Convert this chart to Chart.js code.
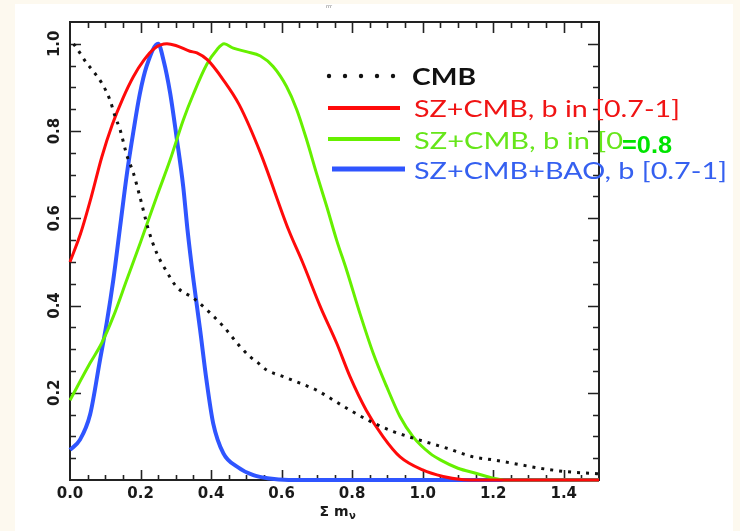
<!DOCTYPE html>
<html><head><meta charset="utf-8">
<script src="https://cdn.jsdelivr.net/npm/chart.js@4.4.0/dist/chart.umd.min.js"></script>
<style>html,body{margin:0;padding:0;background:#fdf9ef;overflow:hidden}
#wrap{position:absolute;left:0;top:0;width:740px;height:531px}</style>
</head><body><div id="wrap"><canvas id="c" width="740" height="531"></canvas></div>
<script>
// ---- data ----
const cmbX = [0.01,0.019,0.047,0.066,0.09,0.113,0.128,0.142,0.161,0.18,0.198,0.222,0.246,0.274,0.302,0.35,0.388,0.435,0.482,0.51,0.534,0.558,0.605,0.652,0.699,0.747,0.794,0.86,0.917,0.973,1.068,1.143,1.2,1.257,1.333,1.408,1.484,1.5];
const cmbY = [1.0,0.99,0.956,0.937,0.91,0.872,0.833,0.803,0.745,0.703,0.65,0.575,0.52,0.478,0.443,0.417,0.39,0.352,0.306,0.283,0.268,0.252,0.237,0.222,0.206,0.183,0.16,0.131,0.111,0.096,0.073,0.053,0.046,0.038,0.027,0.019,0.015,0.014];

const szX = [0.0,0.03,0.06,0.09,0.12,0.15,0.18,0.21,0.24,0.275,0.3,0.34,0.36,0.39,0.435,0.48,0.54,0.62,0.66,0.71,0.756,0.794,0.84,0.888,0.936,1.0,1.058,1.11,1.15,1.5];
const szY = [0.5,0.565,0.648,0.74,0.815,0.875,0.925,0.963,0.99,1.0,0.996,0.983,0.979,0.963,0.917,0.86,0.75,0.573,0.498,0.397,0.314,0.237,0.16,0.099,0.053,0.023,0.008,0.001,0.0,0.0];

const szLowX = [0.0,0.057,0.09,0.123,0.161,0.2,0.246,0.284,0.321,0.35,0.388,0.416,0.437,0.463,0.5,0.54,0.576,0.614,0.643,0.671,0.699,0.728,0.756,0.784,0.822,0.86,0.898,0.936,0.973,1.021,1.05,1.1,1.153,1.2,1.23,1.5];
const szLowY = [0.183,0.268,0.314,0.375,0.459,0.545,0.65,0.734,0.825,0.885,0.953,0.986,1.0,0.99,0.982,0.972,0.948,0.902,0.849,0.78,0.703,0.627,0.55,0.482,0.382,0.29,0.214,0.145,0.099,0.061,0.046,0.027,0.015,0.004,0.0,0.0];

const baoX = [0.0,0.028,0.057,0.085,0.104,0.123,0.142,0.161,0.18,0.198,0.217,0.25,0.265,0.284,0.302,0.321,0.333,0.35,0.369,0.387,0.406,0.435,0.473,0.52,0.56,0.62,1.5];
const baoY = [0.069,0.092,0.15,0.275,0.36,0.46,0.58,0.7,0.8,0.885,0.948,1.0,0.963,0.887,0.787,0.673,0.575,0.459,0.344,0.229,0.13,0.061,0.031,0.011,0.004,0.0,0.0];

const xTickValues = [0.0,0.2,0.4,0.6,0.8,1.0,1.2,1.4];
const xTickLabels = ["0.0","0.2","0.4","0.6","0.8","1.0","1.2","1.4"];
const yTickValues = [0.2,0.4,0.6,0.8,1.0];
const yTickLabels = ["0.2","0.4","0.6","0.8","1.0"];
const legendLabels = ["CMB","SZ+CMB, b in [0.7-1]","SZ+CMB, b in [0","SZ+CMB+BAO, b [0.7-1]"];
const overlayLabel = "=0.8";
const xTitleMain = "Σ m";
const xTitleSub = "ν";
const topNote = "rrr";

const colors = {cmb:'#111111', sz:'#ff0a0a', szLow:'#66f000', bao:'#2f55ff'};

const pts = (xs, ys) => xs.map((x, i) => ({x: x, y: ys[i]}));

function fitText(ctx, text, x, y, font, color, targetW){
  ctx.save();
  ctx.font = font; ctx.fillStyle = color; ctx.textBaseline = 'middle'; ctx.textAlign = 'left';
  const w = ctx.measureText(text).width;
  ctx.translate(x, y); ctx.scale(targetW / w, 1);
  ctx.fillText(text, 0, 0);
  ctx.restore();
}

const bgPlugin = {
  id: 'bg',
  beforeDraw(chart){
    const ctx = chart.ctx;
    ctx.save();
    ctx.fillStyle = '#fdf9ef'; ctx.fillRect(0, 0, chart.width, chart.height);
    ctx.fillStyle = '#ffffff'; ctx.fillRect(15, 4, 718, chart.height - 4);
    ctx.font = '5px "DejaVu Sans"'; ctx.fillStyle = '#777'; ctx.textAlign = 'center'; ctx.textBaseline = 'middle';
    ctx.fillText(topNote, 329, 7);
    ctx.restore();
  }
};

const axesPlugin = {
  id: 'axes',
  beforeDatasetsDraw(chart){
    const ctx = chart.ctx, a = chart.chartArea, xs = chart.scales.x, ys = chart.scales.y;
    ctx.save();
    ctx.strokeStyle = '#222'; ctx.lineWidth = 2;
    ctx.strokeRect(a.left, a.top, a.right - a.left, a.bottom - a.top);
    ctx.lineWidth = 1.6;
    for (let k = 1; k < 30; k++){
      const v = k * 0.05, px = Math.round(xs.getPixelForValue(v)) + 0.5;
      const major = (k % 4 === 0);
      const lb = major ? 10 : 5, lt = major ? 11 : 6;
      ctx.beginPath();
      ctx.moveTo(px, a.bottom); ctx.lineTo(px, a.bottom - lb);
      ctx.moveTo(px, a.top); ctx.lineTo(px, a.top + lt);
      ctx.stroke();
    }
    for (let k = 1; k < 21; k++){
      const v = k * 0.05, py = Math.round(ys.getPixelForValue(v)) + 0.5;
      const major = (k % 4 === 0);
      const l = major ? 11 : 6;
      ctx.beginPath();
      ctx.moveTo(a.left, py); ctx.lineTo(a.left + l, py);
      ctx.moveTo(a.right, py); ctx.lineTo(a.right - l, py);
      ctx.stroke();
    }
    ctx.fillStyle = '#1a1a1a';
    ctx.font = 'bold 15px "DejaVu Sans"';
    ctx.textAlign = 'center'; ctx.textBaseline = 'middle';
    xTickValues.forEach((v, i) => {
      ctx.fillText(xTickLabels[i], xs.getPixelForValue(v), 494);
    });
    ctx.font = 'bold 15px "DejaVu Sans"';
    yTickValues.forEach((v, i) => {
      ctx.save();
      ctx.translate(55, ys.getPixelForValue(v));
      ctx.rotate(-Math.PI / 2);
      ctx.fillText(yTickLabels[i], 0, 0);
      ctx.restore();
    });
    ctx.font = 'bold 14px "DejaVu Sans"';
    ctx.textAlign = 'left';
    const w = ctx.measureText(xTitleMain).width;
    const tx = 337 - w / 2 - 3;
    ctx.fillText(xTitleMain, tx, 512);
    ctx.font = 'bold 10px "DejaVu Sans"';
    ctx.fillText(xTitleSub, tx + w + 0.5, 516);
    ctx.restore();
  }
};

const legendPlugin = {
  id: 'customLegend',
  afterDatasetsDraw(chart){
    const ctx = chart.ctx;
    ctx.save();
    ctx.fillStyle = '#111';
    for (let i = 0; i < 5; i++){
      ctx.beginPath(); ctx.arc(329 + i * 16, 76, 2.2, 0, Math.PI * 2); ctx.fill();
    }
    ctx.lineCap = 'butt';
    ctx.strokeStyle = colors.sz; ctx.lineWidth = 4;
    ctx.beginPath(); ctx.moveTo(328, 108); ctx.lineTo(400, 108); ctx.stroke();
    ctx.strokeStyle = colors.szLow; ctx.lineWidth = 4;
    ctx.beginPath(); ctx.moveTo(328, 139); ctx.lineTo(400, 139); ctx.stroke();
    ctx.strokeStyle = colors.bao; ctx.lineWidth = 5;
    ctx.beginPath(); ctx.moveTo(332, 169); ctx.lineTo(405, 169); ctx.stroke();

    fitText(ctx, legendLabels[0], 412, 78, 'bold 23px Lato', '#111', 64);
    fitText(ctx, legendLabels[1], 414, 110, '23px Lato', '#f01414', 266);
    fitText(ctx, legendLabels[2], 414, 142, '23px Lato', '#66e61a', 209);
    fitText(ctx, legendLabels[3], 414, 172, '23px Lato', '#3560f0', 313);
    fitText(ctx, overlayLabel, 622, 147, 'bold 23px "Liberation Sans"', '#00e400', 50);
    ctx.restore();
  }
};

new Chart(document.getElementById('c').getContext('2d'), {
  type: 'line',
  data: {
    datasets: [
      {label: legendLabels[0], data: pts(cmbX, cmbY), borderColor: colors.cmb, borderWidth: 3, borderDash: [3, 6], pointRadius: 0, fill: false, clip: false},
      {label: legendLabels[1], data: pts(szX, szY), borderColor: colors.sz, borderWidth: 3, pointRadius: 0, fill: false, clip: false},
      {label: legendLabels[2] + overlayLabel, data: pts(szLowX, szLowY), borderColor: colors.szLow, borderWidth: 3, pointRadius: 0, fill: false, clip: false},
      {label: legendLabels[3], data: pts(baoX, baoY), borderColor: colors.bao, borderWidth: 4, pointRadius: 0, fill: false, clip: false}
    ]
  },
  options: {
    responsive: false,
    animation: false,
    events: [],
    layout: {padding: {left: 70, top: 22, right: 141, bottom: 51}},
    elements: {line: {cubicInterpolationMode: 'monotone'}},
    plugins: {legend: {display: false}, tooltip: {enabled: false}, title: {display: false}},
    scales: {
      x: {type: 'linear', min: 0, max: 1.5, display: false},
      y: {type: 'linear', min: 0, max: 1.05, display: false}
    }
  },
  plugins: [bgPlugin, axesPlugin, legendPlugin]
});
</script></body></html>
